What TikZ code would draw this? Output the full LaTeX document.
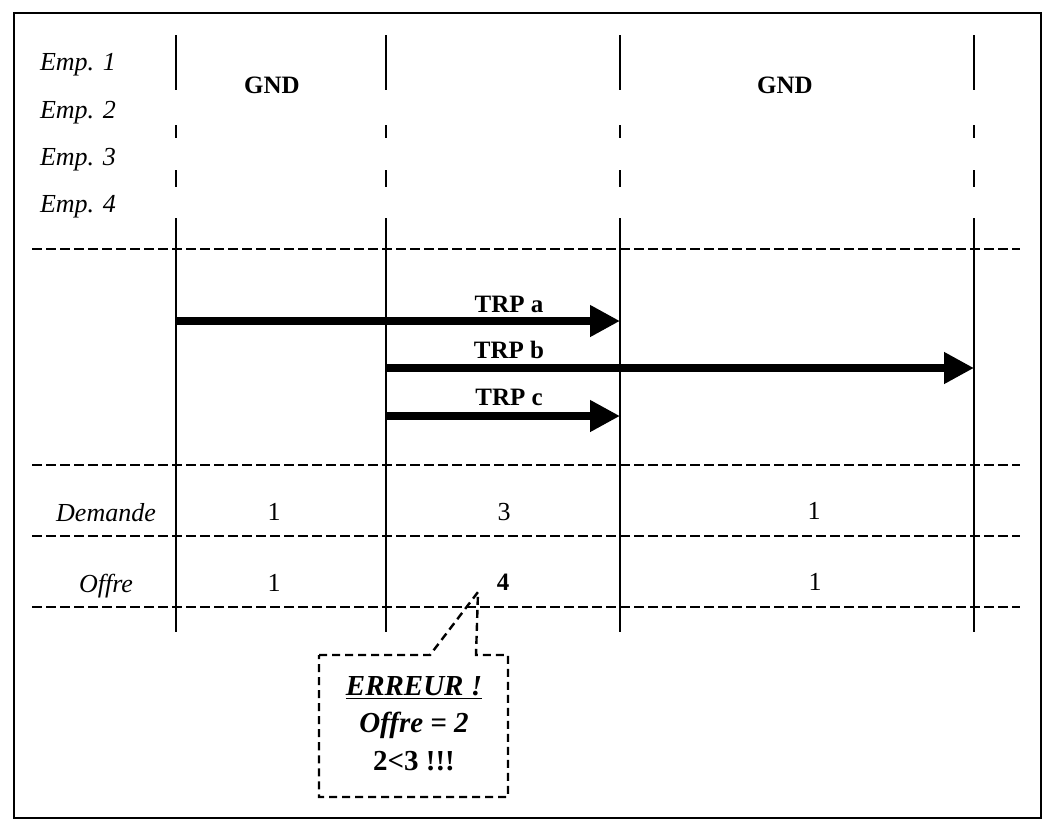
\documentclass[tikz,border=0pt]{standalone}
\usepackage{fontspec}
\setmainfont{Liberation Serif}
\usetikzlibrary{arrows.meta}
\tikzset{
  frame/.style={line width=1.4pt},
  vline/.style={line width=1.3pt},
  sep/.style={line width=1.4pt, dash pattern=on 5pt off 2pt},
  trp/.style={line width=3.7pt, -{Triangle[length=15pt,width=15pt]}},
  txt/.style={anchor=base, font=\fontsize{13}{15}\selectfont},
  btxt/.style={anchor=base, font=\fontsize{12.5}{14}\selectfont\bfseries},
  itxt/.style={anchor=base, font=\fontsize{13}{15}\selectfont\itshape},
  etxt/.style={anchor=base, font=\fontsize{14.5}{17}\selectfont\bfseries},
  bulle/.style={line width=1.2pt, dash pattern=on 4pt off 2.5pt}
}
\begin{document}
\begin{tikzpicture}[x=0.5pt,y=-0.5pt]
\useasboundingbox (0,0) rectangle (1048,825);
\draw[frame] (14,13) rectangle (1041,818);

% colonnes
\foreach \x in {176,386,620,974} {
  \draw[vline] (\x,35) -- (\x,90);
  \draw[vline] (\x,125) -- (\x,138);
  \draw[vline] (\x,170) -- (\x,187);
  \draw[vline] (\x,218) -- (\x,632);
}

% lignes
\foreach \y in {249,465,536,607}
  \draw[sep] (32,\y) -- (1020,\y);

\node[itxt] (e1) at (78,70) {Emp. 1};
\node[itxt] (e2) at (78,118) {Emp. 2};
\node[itxt] (e3) at (78,165) {Emp. 3};
\node[itxt] (e4) at (78,212) {Emp. 4};

\node[btxt] (g1) at (272,93) {GND};
\node[btxt] (g2) at (785,93) {GND};

% transports
\coordinate (a0) at (176,321);
\coordinate (a1) at (620,321);
\coordinate (b0) at (386,368);
\coordinate (b1) at (974,368);
\coordinate (c0) at (386,416);
\coordinate (c1) at (620,416);
\draw[trp] (a0) -- (a1);
\draw[trp] (b0) -- (b1);
\draw[trp] (c0) -- (c1);
\node[btxt] (ta) at (509,312) {TRP a};
\node[btxt] (tb) at (509,358) {TRP b};
\node[btxt] (tc) at (509,405) {TRP c};

\node[itxt] (dem) at (106,521) {Demande};
\node[txt] (d1) at (274,520) {1};
\node[txt] (d2) at (504,520) {3};
\node[txt] (d3) at (814,519) {1};

\node[itxt] (off) at (106,592) {Offre};
\node[txt] (o1) at (274,591) {1};
\node[btxt] (o2) at (503,590) {4};
\node[txt] (o3) at (815,590) {1};

% erreur
\coordinate (pt) at (478,592);
\draw[bulle] (319,655) -- (430,655) -- (pt) -- (476,655) -- (508,655)
  -- (508,797) -- (319,797) -- cycle;
\node[etxt] (err1) at (414,695) {\underline{\itshape ERREUR !}};
\node[etxt] (err2) at (414,732) {\itshape Offre = 2};
\node[etxt] (err3) at (414,770) {2<3 !!!};
\end{tikzpicture}
\end{document}
